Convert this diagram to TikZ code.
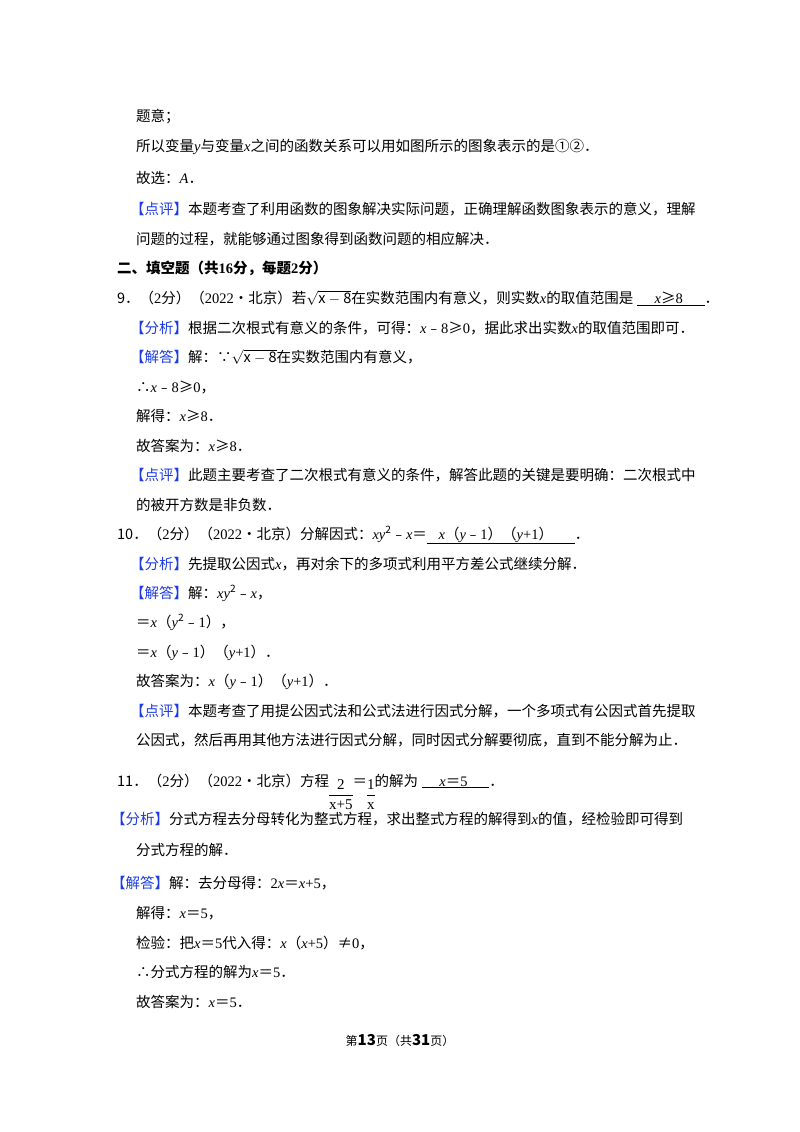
\documentclass[tikz,border=0pt]{standalone}
\usepackage{fontspec}
\setmainfont{Noto Sans CJK SC}
\newfontfamily\tm{Liberation Serif}
\newcommand\vx[1]{{\tm\itshape #1}}
\newcommand\tn[1]{{\tm #1}}
\definecolor{lb}{RGB}{30,60,230}
\newcommand\tag[1]{{\color{lb}【#1】}}
\newcommand\myfr[2]{\raisebox{-0.55\height}{\fontsize{15}{17}\selectfont\renewcommand\arraystretch{1.15}\begin{tabular}{@{}c@{}}\tn{#1}\\\hline\tn{#2}\end{tabular}}}
\tikzset{ln/.style={anchor=base west,inner sep=0pt,font=\fontsize{14.5}{16}\selectfont}}
\begin{document}
\begin{tikzpicture}[x=1pt,y=1pt]
\useasboundingbox[fill=white] (0,0) rectangle (800,-1132);
\node[ln] (l1) at (136,-121) {题意；};
\node[ln] (l2) at (136,-151) {所以变量\vx{y}与变量\vx{x}之间的函数关系可以用如图所示的图象表示的是①②．};
\node[ln] (l3) at (136,-183) {故选：\vx{A}．};
\node[ln] (l4) at (130,-214) {\tag{点评}本题考查了利用函数的图象解决实际问题，正确理解函数图象表示的意义，理解};
\node[ln] (l5) at (136,-244) {问题的过程，就能够通过图象得到函数问题的相应解决．};
\node[ln,font=\fontsize{14.5}{16}\selectfont\bfseries] (l6) at (117,-273) {二、填空题（共\tn{\bfseries 16}分，每题\tn{\bfseries 2}分）};
\node[ln] (l7) at (117,-303) {9．（\tn{2}分）（\tn{2022}•北京）若$\sqrt{\mathrm{x-8}}$在实数范围内有意义，则实数\vx{x}的取值范围是\;\underline{\hspace{1.2em}\vx{x}≥\tn{8}\hspace{1.5em}}．};
\node[ln] (l8) at (130,-333) {\tag{分析}根据二次根式有意义的条件，可得：\vx{x}﹣\tn{8}≥\tn{0}，据此求出实数\vx{x}的取值范围即可．};
\node[ln] (l9) at (130,-362) {\tag{解答}解：∵$\sqrt{\mathrm{x-8}}$在实数范围内有意义，};
\node[ln] (l10) at (136,-392) {∴\vx{x}﹣\tn{8}≥\tn{0}，};
\node[ln] (l11) at (136,-421) {解得：\vx{x}≥\tn{8}．};
\node[ln] (l12) at (136,-451) {故答案为：\vx{x}≥\tn{8}．};
\node[ln] (l13) at (130,-480) {\tag{点评}此题主要考查了二次根式有意义的条件，解答此题的关键是要明确：二次根式中};
\node[ln] (l14) at (136,-510) {的被开方数是非负数．};
\node[ln] (l15) at (117,-539) {10．（\tn{2}分）（\tn{2022}•北京）分解因式：\vx{xy}$^{\mathrm{2}}$﹣\vx{x}＝\underline{\hspace{0.8em}\vx{x}（\vx{y}﹣\tn{1}）（\vx{y}\tn{+1}）\hspace{1.5em}}．};
\node[ln] (l16) at (130,-569) {\tag{分析}先提取公因式\vx{x}，再对余下的多项式利用平方差公式继续分解．};
\node[ln] (l17) at (130,-598) {\tag{解答}解：\vx{xy}$^{\mathrm{2}}$﹣\vx{x}，};
\node[ln] (l18) at (136,-627) {＝\vx{x}（\vx{y}$^{\mathrm{2}}$﹣\tn{1}），};
\node[ln] (l19) at (136,-657) {＝\vx{x}（\vx{y}﹣\tn{1}）（\vx{y}\tn{+1}）．};
\node[ln] (l20) at (136,-686) {故答案为：\vx{x}（\vx{y}﹣\tn{1}）（\vx{y}\tn{+1}）．};
\node[ln] (l21) at (130,-716) {\tag{点评}本题考查了用提公因式法和公式法进行因式分解，一个多项式有公因式首先提取};
\node[ln] (l22) at (136,-745) {公因式，然后再用其他方法进行因式分解，同时因式分解要彻底，直到不能分解为止．};
\node[ln] (l23) at (117,-786) {11．（\tn{2}分）（\tn{2022}•北京）方程\myfr{2}{x+5}＝\myfr{1}{x}的解为\;\underline{\hspace{1.2em}\vx{x}＝\tn{5}\hspace{1.5em}}．};
\node[ln] (l24) at (111,-824) {\tag{分析}分式方程去分母转化为整式方程，求出整式方程的解得到\vx{x}的值，经检验即可得到};
\node[ln] (l25) at (136,-855) {分式方程的解．};
\node[ln] (l26) at (111,-888) {\tag{解答}解：去分母得：\tn{2}\vx{x}＝\vx{x}\tn{+5}，};
\node[ln] (l27) at (136,-918) {解得：\vx{x}＝\tn{5}，};
\node[ln] (l28) at (136,-948) {检验：把\vx{x}＝\tn{5}代入得：\vx{x}（\vx{x}\tn{+5}）≠\tn{0}，};
\node[ln] (l29) at (136,-977) {∴分式方程的解为\vx{x}＝\tn{5}．};
\node[ln] (l30) at (136,-1007) {故答案为：\vx{x}＝\tn{5}．};
\node[anchor=base,inner sep=0pt,font=\fontsize{12}{14}\selectfont] (ft) at (400,-1045) {第\textbf{\fontsize{15}{16}\selectfont 13}页（共\textbf{\fontsize{15}{16}\selectfont 31}页）};
\end{tikzpicture}
\end{document}
